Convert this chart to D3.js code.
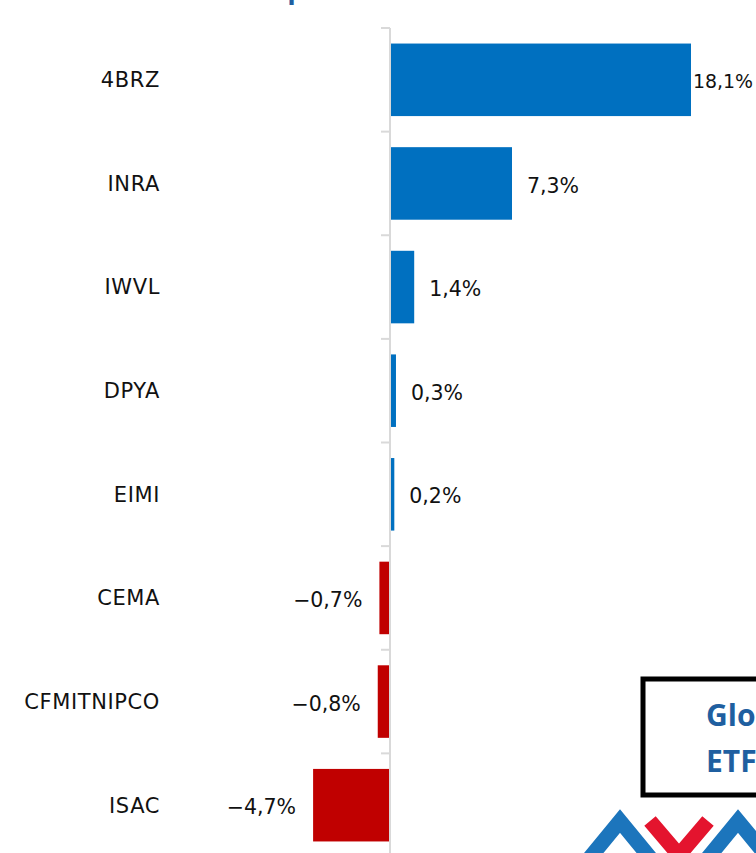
<!DOCTYPE html>
<html>
<head>
<meta charset="utf-8">
<script src="https://cdn.jsdelivr.net/npm/d3@7"></script>
<style>
  html, body { margin: 0; padding: 0; background: #fff; overflow: hidden; }
  svg { display: block; font-family: 'DejaVu Sans', sans-serif; }
</style>
</head>
<body>
<svg id="chart" width="756" height="853"></svg>
<script>
const tickers = ['4BRZ', 'INRA', 'IWVL', 'DPYA', 'EIMI', 'CEMA', 'CFMITNIPCO', 'ISAC']
const returns = [18.1, 7.3, 1.4, 0.3, 0.2, -0.7, -0.8, -4.7]
const boxLines = ['Global', "ETF's"]

const W = 756, H = 853
const svg = d3.select('#chart')
const fmt = (v) => d3.format('.1f')(v).replace('.', ',').replace('-', '\u2212') + '%'

const y = d3.scaleBand().domain(tickers).range([28, 857]).paddingInner(0.3).paddingOuter(0.15)
const x = d3.scaleLinear().domain([0, 18.1]).range([391, 691])

// cut-off title on top
svg.append('text')
  .attr('x', 305).attr('y', -2)
  .attr('text-anchor', 'end')
  .style('font-family', "'Open Sans', sans-serif")
  .style('font-size', '28px').style('font-weight', 'bold').style('fill', '#1F5FA0')
  .text('Top')

// bars
svg.append('g').selectAll('rect')
  .data(returns).enter()
  .append('rect')
  .attr('x', (d) => x(Math.min(0, d)))
  .attr('y', (d, i) => y(tickers[i]))
  .attr('width', (d) => Math.abs(x(d) - x(0)))
  .attr('height', y.bandwidth())
  .style('fill', (d) => d >= 0 ? '#0070C0' : '#C00000')

// axis with ticks between categories
const gAxis = svg.append('g')
gAxis.append('line')
  .attr('x1', x(0) - 1).attr('x2', x(0) - 1)
  .attr('y1', 28).attr('y2', H)
  .style('stroke', '#d9d9d9').style('stroke-width', 2)
const bounds = tickers.map((t) => y(t) - y.step() * y.paddingInner() / 2)
gAxis.selectAll('line.tick')
  .data(bounds).enter()
  .append('line').classed('tick', true)
  .attr('x1', x(0) - 10).attr('x2', x(0) - 1)
  .attr('y1', (d) => d).attr('y2', (d) => d)
  .style('stroke', '#d9d9d9').style('stroke-width', 2)

// category labels
svg.append('g').selectAll('text')
  .data(tickers).enter()
  .append('text')
  .attr('x', 160)
  .attr('y', (d) => y(d) + y.bandwidth() / 2)
  .attr('dy', '0.35em')
  .attr('text-anchor', 'end')
  .style('font-size', '21px').style('letter-spacing', '0.6px').style('fill', '#111')
  .text((d) => d)

// value labels
svg.append('g').selectAll('text')
  .data(returns).enter()
  .append('text')
  .attr('y', (d, i) => y(tickers[i]) + y.bandwidth() / 2 + 2)
  .attr('dy', '0.35em')
  .style('font-size', '20.5px').style('fill', '#111')
  .text(fmt)
  .each(function (d) {
    const sel = d3.select(this)
    let len = this.getComputedTextLength()
    if (d >= 0) {
      if (x(d) + 2 + len > W - 3) {
        // not enough room at the right edge: shrink a little
        sel.style('font-size', (20.5 * (W - 5 - x(d)) / len).toFixed(1) + 'px')
        len = this.getComputedTextLength()
      }
      sel.attr('x', Math.max(x(d) + 2, Math.min(x(d) + 15, W - 3 - len)))
    } else {
      sel.attr('x', x(d) - 17 - len)
    }
  })

// boxed caption in the corner
svg.append('rect')
  .attr('x', 643).attr('y', 679)
  .attr('width', 140).attr('height', 116)
  .style('fill', '#fff').style('stroke', '#000').style('stroke-width', 5)
svg.append('g').selectAll('text')
  .data(boxLines).enter()
  .append('text')
  .attr('x', 706)
  .attr('y', (d, i) => 726 + i * 46)
  .style('font-family', "'Open Sans', sans-serif")
  .style('font-size', '30px').style('font-weight', 'bold').style('fill', '#1F5FA0')
  .text((d) => d)

// logo chevrons
const logo = svg.append('g').style('fill', 'none').style('stroke-width', 15)
logo.append('path').attr('d', 'M588,860 L620,821 L652,860').style('stroke', '#1C75BC')
logo.append('path').attr('d', 'M650,821 L679,855 L708,821').style('stroke', '#E4142E')
logo.append('path').attr('d', 'M706,860 L738,821 L770,860').style('stroke', '#1C75BC')
</script>
</body>
</html>
